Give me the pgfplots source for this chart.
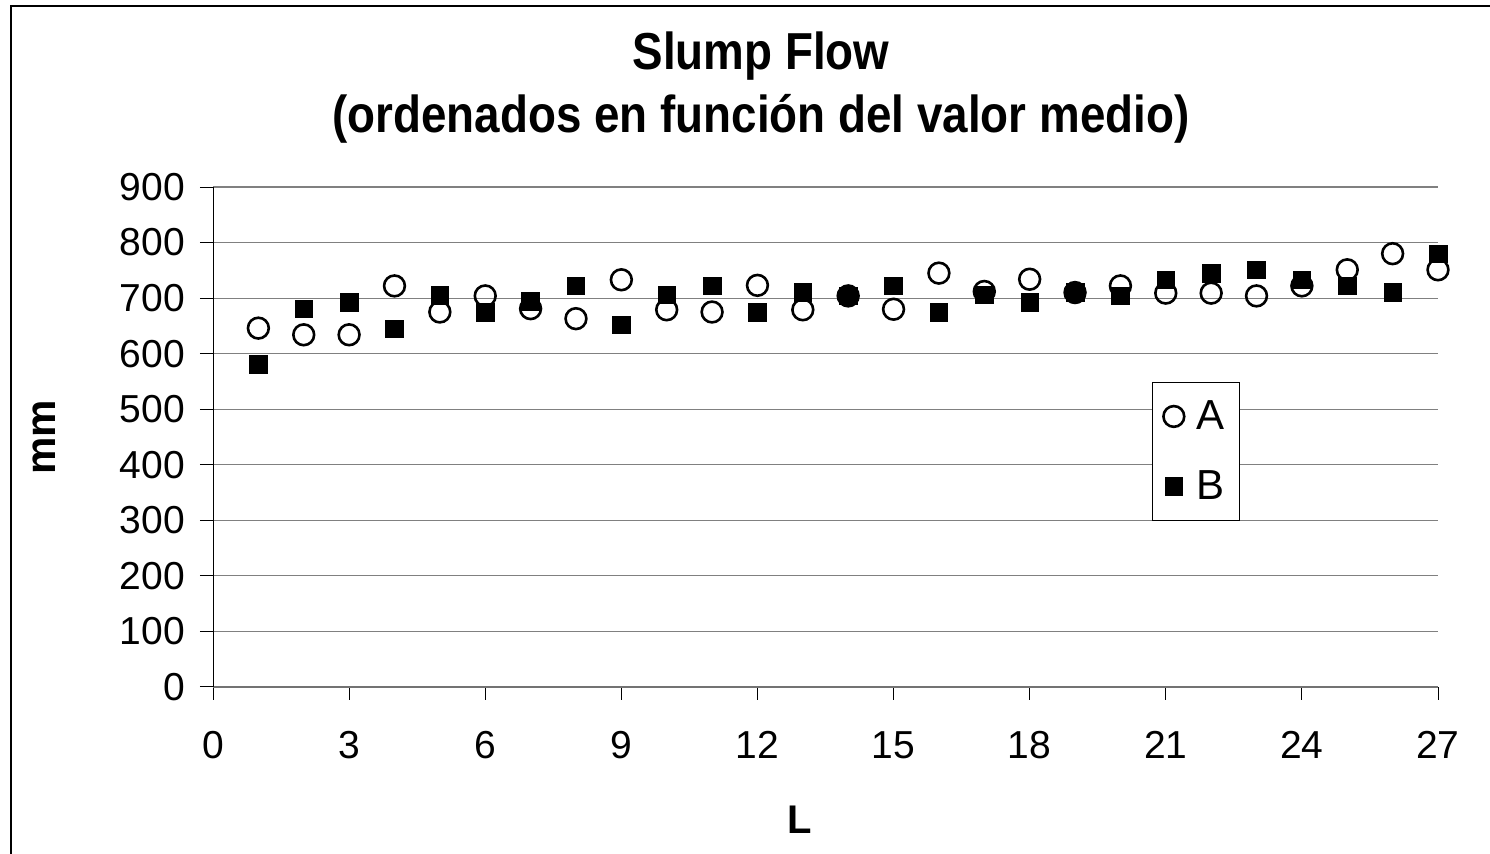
\documentclass[border=0pt]{standalone}
\usepackage{pgfplots}
\pgfplotsset{compat=1.18}
\usepackage{fontspec}
\setmainfont{Liberation Sans}

\pgfplotstableread{
x y
1 581
2 681
3 692
4 645
5 705
6 675
7 694
8 722
9 652
10 706
11 722
12 675
13 711
14 704
15 722
16 675
17 706
18 692
19 710
20 704
21 733
22 745
23 751
24 733
25 722
26 710
27 780
}\seriesB

\pgfplotstableread{
x y
1 646
2 634
3 634
4 722
5 675
6 704
7 681
8 663
9 733
10 679
11 675
12 723
13 679
14 704
15 680
16 745
17 712
18 734
19 710
20 722
21 709
22 709
23 704
24 722
25 751
26 780
27 751
}\seriesA

\begin{document}
\begin{tikzpicture}
\useasboundingbox (0,0) rectangle (745pt,-427pt);
\fill[white] (0,0) rectangle (745pt,-427pt);
\draw[line width=0.6pt] (5.5pt,-440pt) -- (5.5pt,-3pt) -- (760pt,-3pt);
\begin{axis}[
  at={(106.5pt,-343.5pt)}, anchor=south west,
  scale only axis, width=612.5pt, height=250pt,
  xmin=0, xmax=27, ymin=0, ymax=900,
  xtick={0,3,...,27}, ytick={0,100,...,900},
  axis x line*=bottom, axis y line*=left,
  x axis line style={draw=gray!90!black, line width=0.8pt, -},
  y axis line style={draw=black, line width=0.5pt, -},
  tick align=outside, major tick length=6.5pt,
  tick style={black, line width=0.5pt},
  ymajorgrids, major grid style={draw=gray, line width=0.6pt},
  /pgf/number format/assume math mode=true,
  ticklabel style={font=\fontsize{19.5}{22}\selectfont},
  yticklabel style={xshift=-4pt},
  xticklabel style={anchor=north, text height=14pt, text depth=0pt, yshift=-11.5pt},
  clip=false,
  xlabel={L}, ylabel={mm},
  xlabel style={font=\bfseries\fontsize{20}{22}\selectfont, at={(axis description cs:0.479,-0.266)}, anchor=center},
  ylabel style={font=\bfseries\fontsize{21}{22}\selectfont, at={(axis description cs:-0.138,0.5)}, anchor=center, rotate=0},
  legend style={at={(axis description cs:0.7665,0.61)}, anchor=north west,
    draw=black, line width=0.5pt, font=\fontsize{21}{22}\selectfont,
    inner xsep=5.5pt, inner ysep=7pt, row sep=15pt,
    /tikz/every odd column/.append style={column sep=4pt}},
  legend cell align=left,
  reverse legend,
]
\addplot[only marks, mark=square*, mark size=4.4pt, mark options={draw=black, fill=black, line width=0.3pt}] table {\seriesB};
\addlegendentry{B}
\addplot[only marks, mark=o, mark size=5.2pt, mark options={draw=black, line width=1.3pt, fill=none}] table {\seriesA};
\addlegendentry{A}
\end{axis}
\node[anchor=base, font=\bfseries\fontsize{26}{30}\selectfont] at (380.5pt,-35pt) {\scalebox{0.88}[1]{Slump Flow}};
\node[anchor=base, font=\bfseries\fontsize{26}{30}\selectfont] at (380.5pt,-66.5pt) {\scalebox{0.88}[1]{(ordenados en función del valor medio)}};
\end{tikzpicture}
\end{document}
